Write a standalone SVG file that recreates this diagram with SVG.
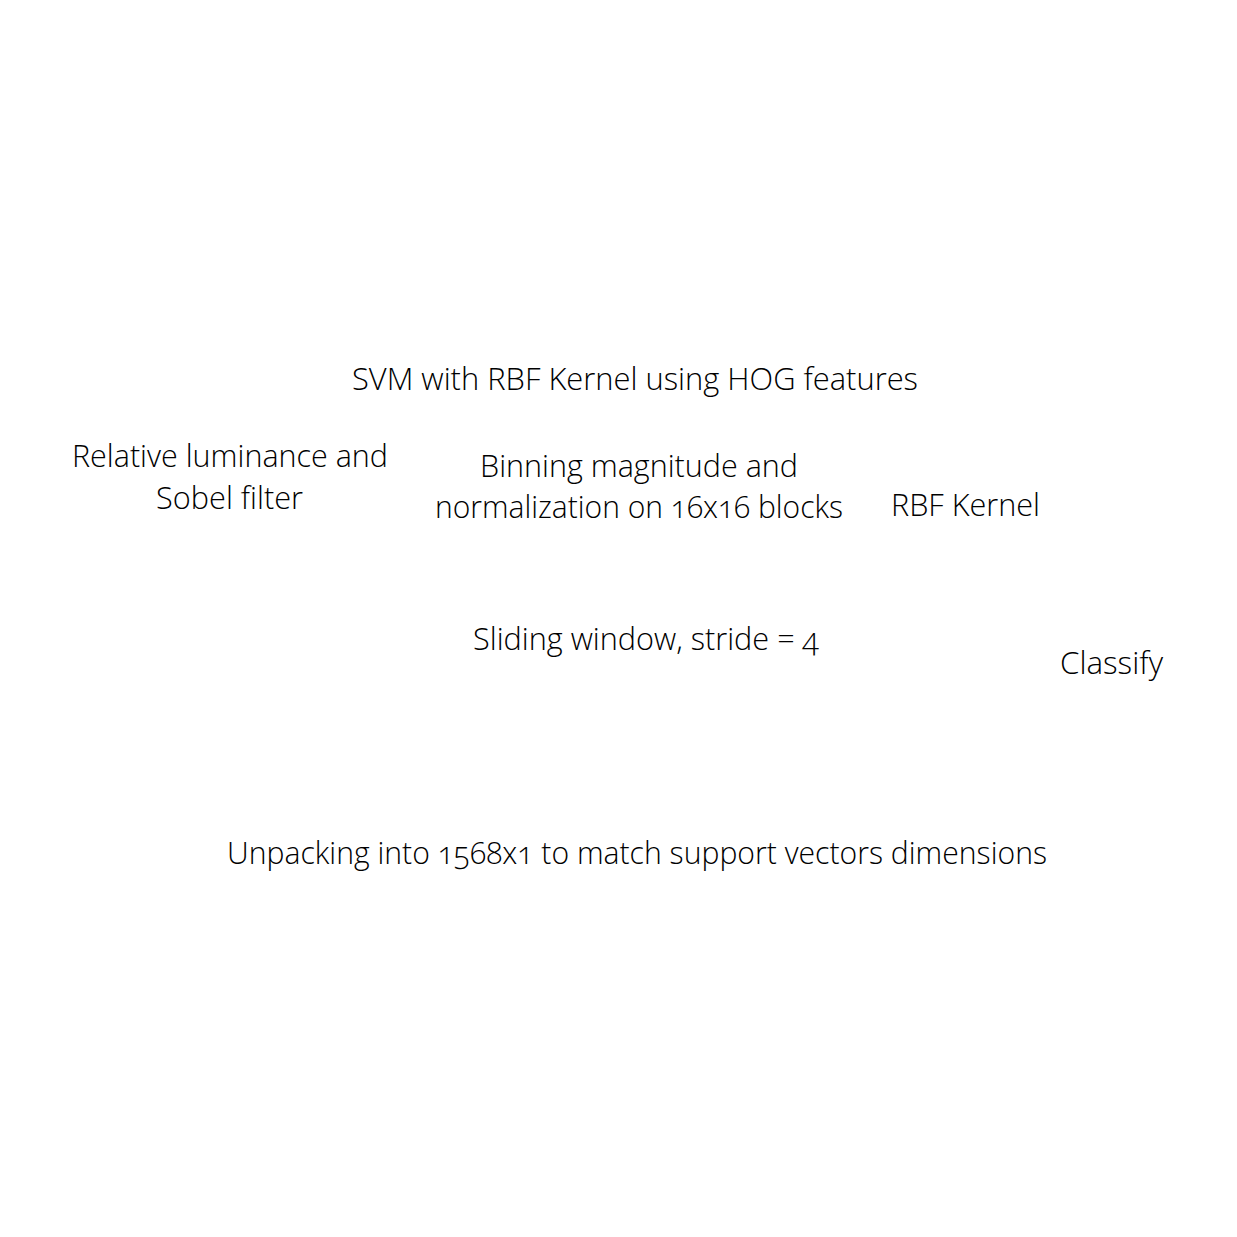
<svg xmlns="http://www.w3.org/2000/svg" width="1237" height="1237" viewBox="0 0 1237 1237">
<style>
text{font-family:"Open Sans","Lato","Liberation Sans",sans-serif;font-weight:300;font-size:31px;fill:#000;text-anchor:middle;font-variant-numeric:oldstyle-nums;}
</style>
<rect width="1237" height="1237" fill="#fff"/>
<g id="title"><text x="635" y="390" textLength="566" lengthAdjust="spacingAndGlyphs">SVM with RBF Kernel using HOG features</text></g>
<g id="luminance"><text x="230" y="467" textLength="316" lengthAdjust="spacingAndGlyphs">Relative luminance and</text><text x="229.5" y="509" textLength="147" lengthAdjust="spacingAndGlyphs">Sobel filter</text></g>
<g id="binning"><text x="639" y="477" textLength="318" lengthAdjust="spacingAndGlyphs">Binning magnitude and</text><text x="639" y="518" textLength="408" lengthAdjust="spacingAndGlyphs">normalization on 16x16 blocks</text></g>
<g id="rbf"><text x="965.5" y="516" textLength="149" lengthAdjust="spacingAndGlyphs">RBF Kernel</text></g>
<g id="sliding"><text x="646" y="650" textLength="346" lengthAdjust="spacingAndGlyphs">Sliding window, stride = 4</text></g>
<g id="classify"><text x="1111.5" y="674" textLength="103" lengthAdjust="spacingAndGlyphs">Classify</text></g>
<g id="unpacking"><text x="637" y="864" textLength="820" lengthAdjust="spacingAndGlyphs">Unpacking into 1568x1 to match support vectors dimensions</text></g>
<g id="connectors"></g>
</svg>
